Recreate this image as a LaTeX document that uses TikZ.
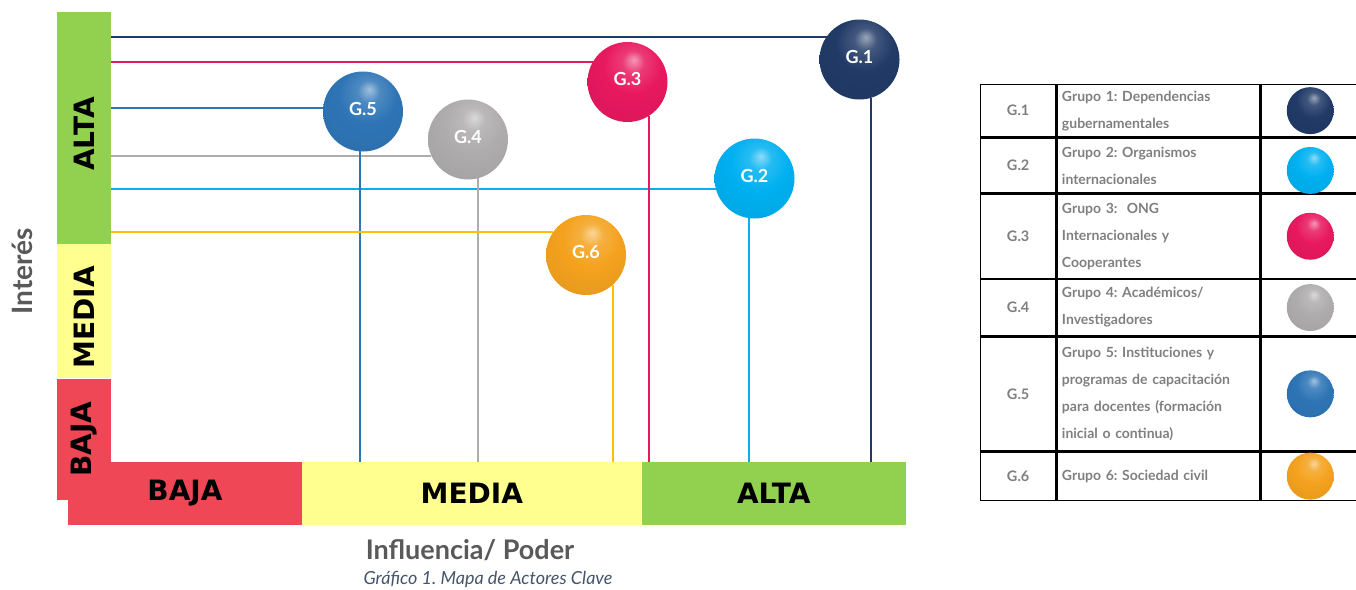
\documentclass[tikz,border=0pt]{standalone}
\usepackage{fontspec}
\setmainfont{Lato}
\newfontfamily\barfont{DejaVu Sans}
\usetikzlibrary{positioning}
\frenchspacing

\definecolor{verde}{HTML}{92D050}
\definecolor{amarillo}{HTML}{FFFF8F}
\definecolor{rojo}{HTML}{F04757}
\definecolor{colA}{HTML}{213A67}
\definecolor{colB}{HTML}{00B0F0}
\definecolor{colC}{HTML}{E8185F}
\definecolor{colD}{HTML}{AEACAC}
\definecolor{colE}{HTML}{2E75B6}
\definecolor{colF}{HTML}{F4A21E}
\definecolor{lineaF}{HTML}{FFC000}
\definecolor{gristxt}{HTML}{7F7F7F}
\definecolor{ejetxt}{HTML}{595959}
\definecolor{pietxt}{HTML}{44546A}
\colorlet{bolacol}{colA}

\pgfdeclareradialshading[bolacol]{esfera}{\pgfpoint{4bp}{14bp}}{%
  color(0bp)=(bolacol!45!white); color(7bp)=(bolacol!85!white);
  color(18bp)=(bolacol); color(34bp)=(bolacol!95!black);
  color(50bp)=(bolacol!80!black); color(70bp)=(bolacol!80!black)}

\tikzset{
  relleno/.code={\colorlet{bolacol}{#1}},
  ybar/.style={rectangle, minimum width=54pt, inner sep=0pt, text=black, font=\barfont\bfseries\fontsize{28pt}{28pt}\selectfont},
  xbar/.style={rectangle, minimum height=63pt, inner sep=0pt, text=black, font=\barfont\bfseries\fontsize{28pt}{28pt}\selectfont},
  bola/.style={circle, shading=esfera, minimum size=80pt, inner sep=0pt, outer sep=0pt, text=white, text depth=6pt, font=\bfseries\fontsize{18pt}{18pt}\selectfont},
  legbola/.style={circle, shading=esfera, minimum size=47pt, inner sep=0pt},
  guia/.style={line width=2pt},
  idcell/.style={rectangle, draw=black, line width=1.3pt, minimum width=75pt, inner sep=0pt, text=gristxt, font=\bfseries\fontsize{14.5pt}{14.5pt}\selectfont},
  txtcell/.style={rectangle, draw=black, line width=1.3pt, text width=193pt, inner xsep=5pt, inner ysep=0pt, align=left, text=gristxt, font=\bfseries\fontsize{14pt}{27pt}\selectfont},
  bolacell/.style={rectangle, draw=black, line width=1.3pt, minimum width=100pt, inner sep=0pt}
}

\begin{document}
\begin{tikzpicture}[x=1pt, y=-1pt]
	\useasboundingbox (0,0) rectangle (1356,589);
	% eje x
	\node[xbar, fill=rojo, minimum width=234pt] (xbaja) at (185,493.5) {BAJA};
	\node[xbar, fill=amarillo, minimum width=339pt, right=0pt of xbaja] (xmedia) {MEDIA};
	\node[xbar, fill=verde, minimum width=264pt, right=0pt of xmedia] (xalta) {ALTA};
	% eje y
	\node[ybar, fill=verde, minimum height=232pt] (yalta) at (84,128) {\rotatebox{90}{ALTA\hspace{12pt}}};
	\node[ybar, fill=amarillo, minimum height=134pt, below=0pt of yalta] (ymedia) {\rotatebox{90}{MEDIA\hspace{12pt}}};
	\node[ybar, fill=rojo, minimum height=121pt, below=0pt of ymedia] (ybaja) {\rotatebox{90}{BAJA}};

	\node[rotate=90, text=ejetxt, font=\bfseries\fontsize{28pt}{28pt}\selectfont] (interes) at (22.5,271) {Interés};
	\node[text=ejetxt, font=\bfseries\fontsize{27pt}{27pt}\selectfont] (influencia) at (470,550) {Influencia/ Poder};
	\node[text=pietxt, font=\itshape\fontsize{18pt}{18pt}\selectfont] (pie) at (488,579) {Gráfico 1. Mapa de Actores Clave};

	% grupos
	\node[bola, relleno=colA] (g1) at (859.5,59.5) {G.1};
	\node[bola, relleno=colB] (g2) at (754.5,178.5) {G.2};
	\node[bola, relleno=colC] (g3) at (627.5,82) {G.3};
	\node[bola, relleno=colD] (g4) at (468,139.5) {G.4};
	\node[bola, relleno=colE] (g5) at (363,111.5) {G.5};
	\node[bola, relleno=colF] (g6) at (586,255) {G.6};
	%
	\draw[guia, colA] (yalta.east |- g1.145) -- (g1.145);
	\draw[guia, colA] (g1.-74) -- (g1.-74 |- xalta.north);
	\draw[guia, colB] (yalta.east |- g2.195) -- (g2.195);
	\draw[guia, colB] (g2.-98) -- (g2.-98 |- xalta.north);
	\draw[guia, colC] (yalta.east |- g3.150) -- (g3.150);
	\draw[guia, colC] (g3.-58) -- (g3.-58 |- xalta.north);
	\draw[guia, colD] (yalta.east |- g4.204) -- (g4.204);
	\draw[guia, colD] (g4.-75) -- (g4.-75 |- xmedia.north);
	\draw[guia, colE] (yalta.east |- g5.175) -- (g5.175);
	\draw[guia, colE] (g5.-94) -- (g5.-94 |- xmedia.north);
	\draw[guia, lineaF] (yalta.east |- g6.145) -- (g6.145);
	\draw[guia, lineaF] (g6.-48) -- (g6.-48 |- xmedia.north);

	% leyenda
	\node[idcell, minimum height=52pt, anchor=north west] (id1) at (980,84) {G.1};
	\node[txtcell, minimum height=52pt, right=0pt of id1] (t1) {Grupo 1: Dependencias\\gubernamentales};
	\node[bolacell, minimum height=52pt, right=0pt of t1] (c1) {};
	\node[idcell, minimum height=55pt, below=0pt of id1] (id2) {G.2};
	\node[txtcell, minimum height=55pt, right=0pt of id2] (t2) {Grupo 2: Organismos\\internacionales};
	\node[bolacell, minimum height=55pt, right=0pt of t2] (c2) {};
	\node[idcell, minimum height=84pt, below=0pt of id2] (id3) {G.3};
	\node[txtcell, minimum height=84pt, right=0pt of id3] (t3) {Grupo 3:\ \ ONG\\Internacionales y\\Cooperantes};
	\node[bolacell, minimum height=84pt, right=0pt of t3] (c3) {};
	\node[idcell, minimum height=56pt, below=0pt of id3] (id4) {G.4};
	\node[txtcell, minimum height=56pt, right=0pt of id4] (t4) {Grupo 4: Académicos/\\Investigadores};
	\node[bolacell, minimum height=56pt, right=0pt of t4] (c4) {};
	\node[idcell, minimum height=114pt, below=0pt of id4] (id5) {G.5};
	\node[txtcell, minimum height=114pt, right=0pt of id5] (t5) {Grupo 5: Instituciones y\\programas de capacitación\\para docentes (formación\\inicial o continua)};
	\node[bolacell, minimum height=114pt, right=0pt of t5] (c5) {};
	\node[idcell, minimum height=48pt, below=0pt of id5] (id6) {G.6};
	\node[txtcell, minimum height=48pt, right=0pt of id6] (t6) {Grupo 6: Sociedad civil};
	\node[bolacell, minimum height=48pt, right=0pt of t6] (c6) {};
	%
	\node[legbola, relleno=colA] (b1) at ([xshift=-1pt]c1) {};
	\node[legbola, relleno=colB] (b2) at ([xshift=-1pt,yshift=-5pt]c2) {};
	\node[legbola, relleno=colC] (b3) at ([xshift=-1pt]c3) {};
	\node[legbola, relleno=colD] (b4) at ([xshift=-1pt]c4) {};
	\node[legbola, relleno=colE] (b5) at ([xshift=-1pt]c5) {};
	\node[legbola, relleno=colF] (b6) at ([xshift=-1pt]c6) {};
\end{tikzpicture}
\end{document}
